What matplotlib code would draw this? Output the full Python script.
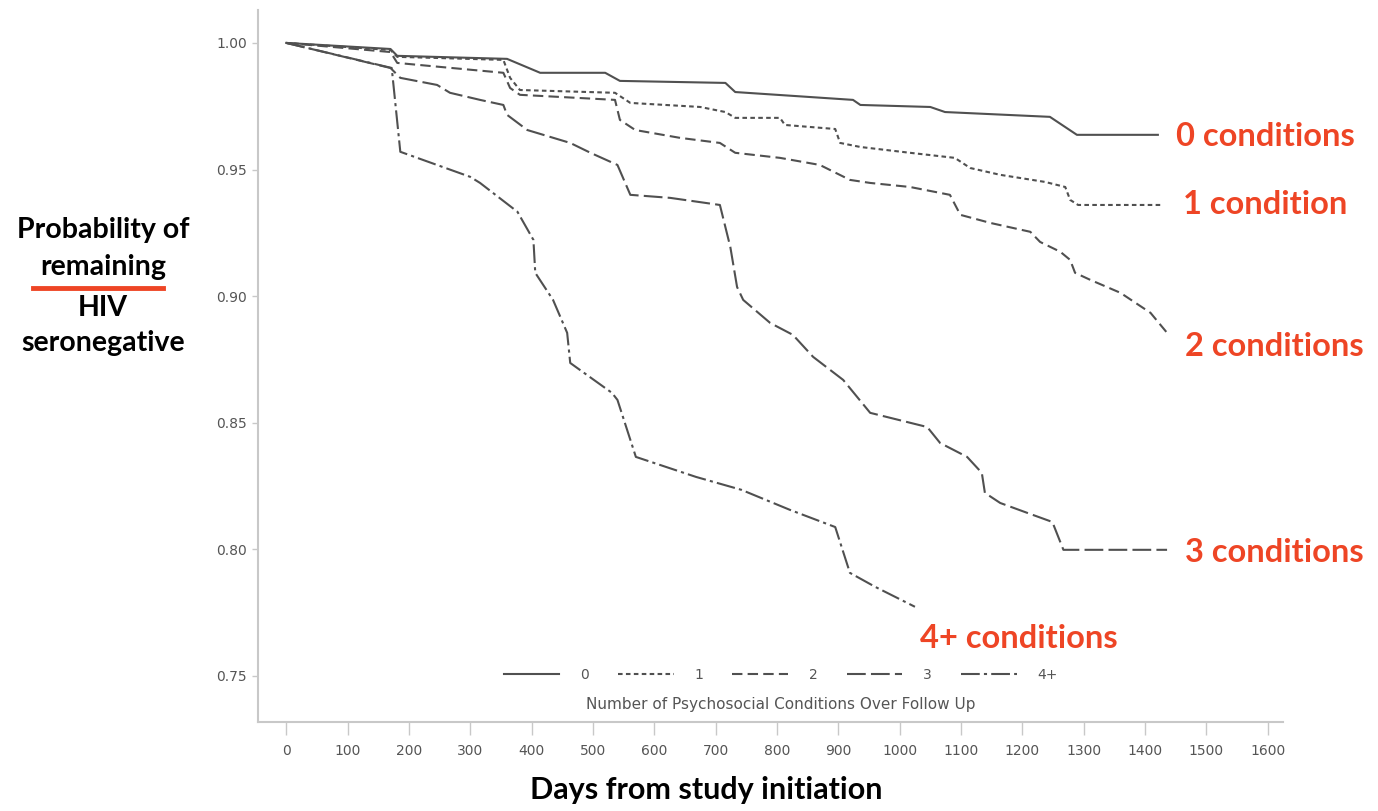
import matplotlib
matplotlib.use("Agg")
import matplotlib.pyplot as plt
from matplotlib.lines import Line2D

# Kaplan-Meier curves (days, probability)
days_0 = [0, 170, 181, 360, 414, 520, 544, 716, 732, 924, 936, 1050, 1074, 1245, 1289, 1421]
prob_0 = [1.0, 0.9976, 0.9949, 0.9937, 0.9882, 0.9882, 0.9850, 0.9842, 0.9806, 0.9775, 0.9755,
          0.9747, 0.9727, 0.9708, 0.9637, 0.9637]

days_1 = [0, 170, 181, 354, 365, 381, 536, 561, 675, 716, 732, 805, 813, 895, 903, 936, 1017,
          1090, 1115, 1164, 1237, 1270, 1278, 1291, 1429]
prob_1 = [1.0, 0.9972, 0.9945, 0.9933, 0.9862, 0.9814, 0.9803, 0.9763, 0.9747, 0.9727, 0.9704,
          0.9704, 0.9676, 0.9660, 0.9605, 0.9589, 0.9566, 0.9546, 0.9506, 0.9479, 0.9451, 0.9431,
          0.9380, 0.9360, 0.9360]

days_2 = [0, 170, 181, 354, 365, 381, 536, 544, 569, 642, 707, 732, 805, 870, 919, 952, 1017,
          1082, 1099, 1148, 1213, 1229, 1262, 1278, 1286, 1311, 1360, 1409, 1436]
prob_2 = [1.0, 0.9964, 0.9921, 0.9882, 0.9822, 0.9795, 0.9775, 0.9696, 0.9656, 0.9625, 0.9605,
          0.9566, 0.9546, 0.9518, 0.9459, 0.9447, 0.9431, 0.9400, 0.9321, 0.9289, 0.9254, 0.9214,
          0.9175, 0.9143, 0.9092, 0.9064, 0.9013, 0.8934, 0.8855]

days_3 = [0, 170, 186, 246, 267, 316, 354, 360, 393, 463, 496, 540, 561, 626, 707, 724, 735, 745,
          789, 826, 859, 908, 952, 1045, 1066, 1110, 1134, 1139, 1164, 1208, 1249, 1267, 1436]
prob_3 = [1.0, 0.9901, 0.9862, 0.9834, 0.9803, 0.9775, 0.9755, 0.9716, 0.9656, 0.9605, 0.9566,
          0.9518, 0.9400, 0.9388, 0.9360, 0.9194, 0.9036, 0.8985, 0.8894, 0.8847, 0.8760, 0.8669,
          0.8539, 0.8483, 0.8420, 0.8365, 0.8302, 0.8223, 0.8183, 0.8144, 0.8108, 0.7998, 0.7998]

days_4 = [0, 172, 186, 300, 316, 377, 403, 406, 435, 458, 463, 531, 540, 570, 668, 742, 821, 895,
          919, 960, 1025]
prob_4 = [1.0, 0.9901, 0.9570, 0.9471, 0.9447, 0.9333, 0.9222, 0.9092, 0.8985, 0.8855, 0.8736,
          0.8618, 0.8590, 0.8365, 0.8286, 0.8235, 0.8156, 0.8088, 0.7907, 0.7852, 0.7773]

legend_labels = ["0", "1", "2", "3", "4+"]
curve_labels = ["0 conditions", "1 condition", "2 conditions", "3 conditions", "4+ conditions"]
x_ticks = list(range(0, 1700, 100))
y_ticks = [0.75, 0.80, 0.85, 0.90, 0.95, 1.00]

W, H = 1378, 811
RED = "#ee4525"
LINE = "#505050"
GRAY = "#c8c8c8"
TXT = "#555555"

def fx(px):
    return px / W

def fy(py):
    return 1 - py / H

fig = plt.figure(figsize=(W / 100, H / 100), dpi=100)
ax = fig.add_axes([fx(258), fy(722), fx(1283) - fx(258), fy(10) - fy(722)])

styles = ["-", (0, (2.2, 1.6)), (0, (5, 2.5)), (0, (9, 2.5)), (0, (9, 2, 1.5, 2))]
series = [(days_0, prob_0), (days_1, prob_1), (days_2, prob_2), (days_3, prob_3), (days_4, prob_4)]
for (d, p), ls, lab in zip(series, styles, legend_labels):
    ax.plot(d, p, color=LINE, lw=1.5, linestyle=ls, label=lab)

ax.set_xlim(-46, 1625)
ax.set_ylim(0.7318, 1.013)
ax.set_xticks(x_ticks)
ax.set_yticks(y_ticks)
ax.set_yticklabels(["%.2f" % v for v in y_ticks])
for s in ["top", "right"]:
    ax.spines[s].set_visible(False)
for s in ["left", "bottom"]:
    ax.spines[s].set_color(GRAY)
    ax.spines[s].set_linewidth(1.5)
ax.tick_params(axis="x", length=9, width=1, color=GRAY, labelsize=10, labelcolor=TXT, pad=7)
ax.tick_params(axis="y", length=4, width=1, color=GRAY, labelsize=10, labelcolor=TXT, pad=4)

leg = ax.legend(ncol=5, loc="center", bbox_to_anchor=(0.51, 0.066), frameon=False,
                handlelength=4.0, columnspacing=2.1, handletextpad=1.5, fontsize=10)
for t in leg.get_texts():
    t.set_color(TXT)
ax.text(0.51, 0.024, "Number of Psychosocial Conditions Over Follow Up", transform=ax.transAxes,
        ha="center", va="center", fontsize=11, color=TXT)

# red curve labels on the right
label_pos = [(1176, 136), (1183, 205), (1185, 347), (1185, 553), (920, 638)]
for lab, (px, py) in zip(curve_labels, label_pos):
    fig.text(fx(px), fy(py), lab, color=RED, fontsize=23.5, fontweight="bold",
             family="Lato", ha="left", va="center")

# y-axis title
ylab_lines = ["Probability of", "remaining", "HIV", "seronegative"]
ylab_y = [230, 267, 308, 343]
for s, py in zip(ylab_lines, ylab_y):
    fig.text(fx(103), fy(py), s, fontsize=20.5, fontweight="bold", family="Lato",
             ha="center", va="center", color="black")
fig.add_artist(Line2D([fx(33), fx(163)], [fy(288), fy(288)], transform=fig.transFigure,
                      color=RED, lw=3.5))

fig.text(fx(706), fy(790), "Days from study initiation", fontsize=22, fontweight="bold",
         family="Lato", ha="center", va="center", color="black")

fig.savefig("out.png", dpi=100, facecolor="white")
